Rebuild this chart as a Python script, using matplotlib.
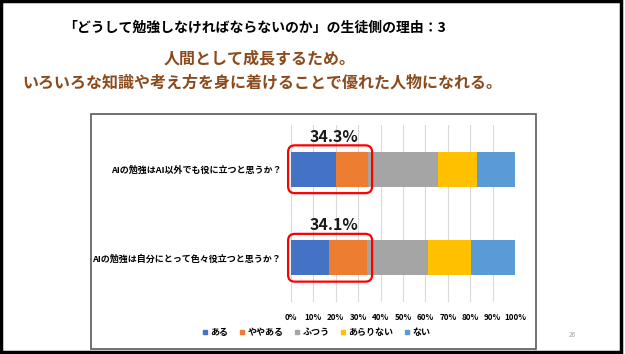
import matplotlib.pyplot as plt
from matplotlib.patches import FancyBboxPatch, Rectangle
from matplotlib.lines import Line2D

plt.rcParams['font.family'] = ['Noto Sans CJK JP', 'DejaVu Sans']

questions = ['AIの勉強はAI以外でも役に立つと思うか？', 'AIの勉強は自分にとって色々役立つと思うか？']
answers = ['ある', 'ややある', 'ふつう', 'あらりない', 'ない']
colors = ['#4472C4', '#ED7D31', '#A5A5A5', '#FFC000', '#5B9BD5']
# 各回答の割合(%) 上の質問, 下の質問
values = [
    [20.0, 17.1],
    [14.3, 17.0],
    [31.3, 26.9],
    [17.3, 19.4],
    [17.1, 19.6],
]
positive = ['34.3%', '34.1%']
ticks = [0, 10, 20, 30, 40, 50, 60, 70, 80, 90, 100]

fig = plt.figure(figsize=(6.25, 3.54), dpi=100)
ax = fig.add_axes([291 / 625, 1 - 302 / 354, 224 / 625, 177 / 354])

ypos = [1, 0]
left = [0, 0]
for i in range(len(answers)):
    ax.barh(ypos, values[i], left=left, height=0.4, color=colors[i], label=answers[i], zorder=2)
    left = [left[j] + values[i][j] for j in range(2)]

# 赤い枠と肯定的回答の合計
for j in range(2):
    box = FancyBboxPatch((-1.3, ypos[j] - 0.27), 37.5, 0.54,
                         boxstyle='round,pad=0,rounding_size=3',
                         mutation_aspect=2.24 / 88.5,
                         fill=False, edgecolor='#FF0000', linewidth=1.6,
                         clip_on=False, zorder=3)
    ax.add_patch(box)
    ax.text(19.2, ypos[j] + 0.37, positive[j], ha='center', va='center',
            fontsize=11.5, fontweight='bold', color='#1a1a1a')

ax.set_xlim(0, 100)
ax.set_ylim(-0.5, 1.5)
ax.set_xticks(ticks)
ax.set_xticklabels([f'{t}%' for t in ticks], fontsize=5.8, fontweight='bold')
ax.set_yticks(ypos)
ax.set_yticklabels(questions, fontsize=6.5, fontweight='bold')
ax.tick_params(length=0, pad=7)
ax.tick_params(axis='x', pad=8)
ax.grid(axis='x', color='#D9D9D9', linewidth=0.8, zorder=0)
for s in ax.spines.values():
    s.set_visible(False)

handles = [Line2D([], [], marker='s', linestyle='none', markersize=3.2,
                  color=c) for c in colors]
fig.legend(handles, answers, loc='center', bbox_to_anchor=(315 / 625, 1 - 333 / 354),
           ncol=5, frameon=False, prop={'size': 6.5, 'weight': 'bold'},
           handletextpad=0.0, columnspacing=0.9, handlelength=1.2)

# タイトル
fig.text(255 / 625, 1 - 28 / 354, '「どうして勉強しなければならないのか」の生徒側の理由：3',
         ha='center', va='center', fontsize=10, fontweight='bold', color='black')
fig.text(260 / 625, 1 - 58 / 354, '人間として成長するため。',
         ha='center', va='center', fontsize=11.5, fontweight='bold', color='#8B4A1C')
fig.text(262 / 625, 1 - 82 / 354, 'いろいろな知識や考え方を身に着けることで優れた人物になれる。',
         ha='center', va='center', fontsize=11.5, fontweight='bold', color='#8B4A1C')
fig.text(572 / 625, 1 - 335 / 354, '26', ha='center', va='center', fontsize=4.5, color='#A0A0A0')

# 枠
fig.patches.append(Rectangle((91 / 625, 1 - 349 / 354), 445 / 625, 235 / 354,
                             transform=fig.transFigure, fill=False,
                             edgecolor='#595959', linewidth=1.2))
fig.patches.append(Rectangle((0.002, 0.006), 0.991, 0.99, transform=fig.transFigure,
                             fill=False, edgecolor='black', linewidth=2.5))

fig.savefig('out.png', dpi=100)
